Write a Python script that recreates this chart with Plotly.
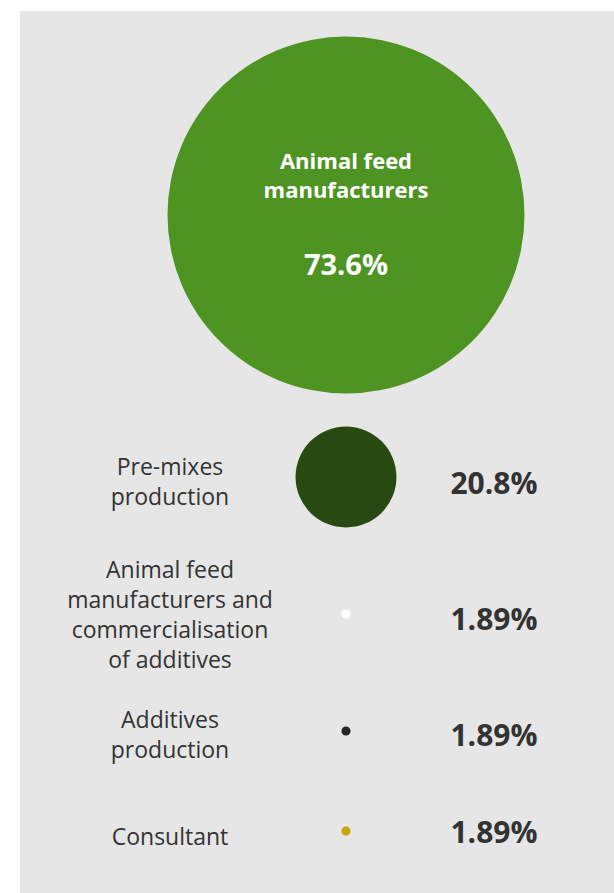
import plotly.graph_objects as go

# ---- data ----
categories = [
    "Animal feed<br>manufacturers",
    "Pre-mixes<br>production",
    "Animal feed<br>manufacturers and<br>commercialisation<br>of additives",
    "Additives<br>production",
    "Consultant",
]
values = [73.6, 20.8, 1.89, 1.89, 1.89]
value_labels = ["73.6%", "20.8%", "1.89%", "1.89%", "1.89%"]

# ---- layout / style ----
colors = ["#4e9423", "#284a12", "#ffffff", "#262626", "#c8a400"]
row_y = [215, 477, 614, 731, 831]       # circle centres (pixel-like axis units)
label_y = [484, 617, 737, 839]          # side label centres
pct_y = [486, 622, 738, 835]            # percentage centres
circle_x = 346
label_x = 170
pct_x = 494
px_per_unit = 357 / 73.6                # diameter proportional to value
FONT = "Open Sans"
TXT = "#333333"

fig = go.Figure()

fig.add_trace(go.Scatter(
    x=[circle_x] * len(values), y=row_y, mode="markers",
    marker=dict(size=[v * px_per_unit for v in values], sizemode="diameter",
                color=colors, line=dict(width=0), opacity=1),
    hoverinfo="skip", showlegend=False,
))

# big circle inner texts
fig.add_trace(go.Scatter(
    x=[circle_x], y=[row_y[0] - 37], mode="text", text=[f"<b>{categories[0]}</b>"],
    textfont=dict(family=FONT, size=22, color="#ffffff"), hoverinfo="skip", showlegend=False,
))
fig.add_trace(go.Scatter(
    x=[circle_x], y=[row_y[0] + 53], mode="text", text=[f"<b>{value_labels[0]}</b>"],
    textfont=dict(family=FONT, size=29, color="#ffffff"), hoverinfo="skip", showlegend=False,
))

# left labels
fig.add_trace(go.Scatter(
    x=[label_x] * 4, y=label_y, mode="text", text=categories[1:],
    textfont=dict(family=FONT, size=23, color=TXT), hoverinfo="skip", showlegend=False,
))
# right percentages
fig.add_trace(go.Scatter(
    x=[pct_x] * 4, y=pct_y, mode="text",
    text=[f"<b>{t}</b>" for t in value_labels[1:]],
    textfont=dict(family=FONT, size=30, color=TXT), hoverinfo="skip", showlegend=False,
))

fig.update_layout(
    width=614, height=893,
    margin=dict(l=20, r=0, t=11, b=0),
    paper_bgcolor="#ffffff", plot_bgcolor="#e6e6e6",
    xaxis=dict(range=[20, 614], visible=False, fixedrange=True),
    yaxis=dict(range=[893, 11], visible=False, fixedrange=True),
)

fig.write_html(
    "out.html",
    config={"displayModeBar": False},
    post_script="document.body.style.margin='0';document.body.style.overflow='hidden';",
)
